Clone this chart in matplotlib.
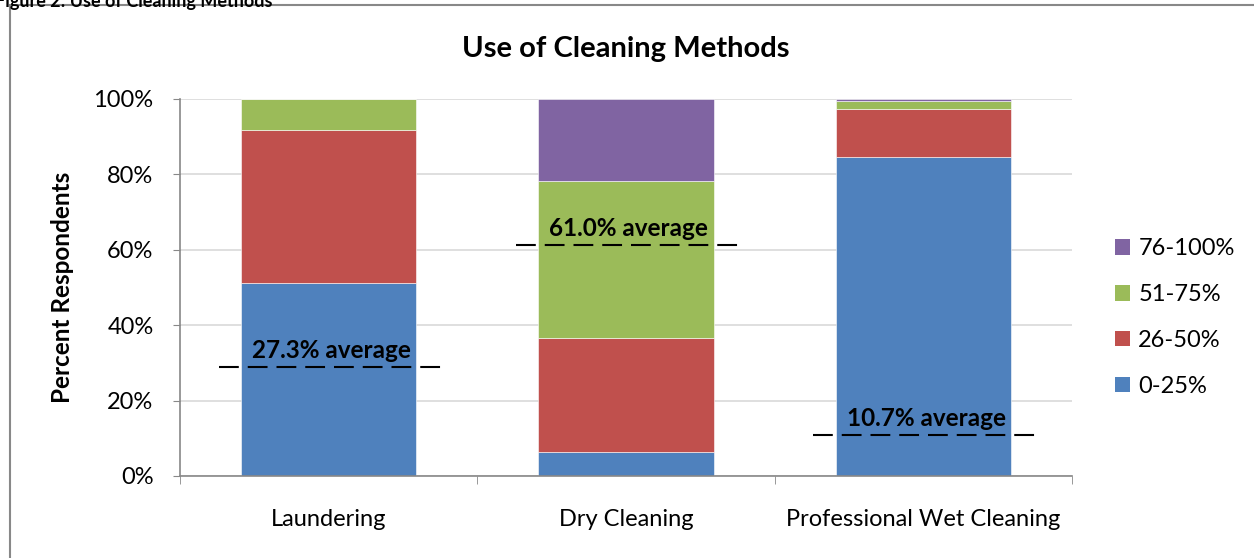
import matplotlib.pyplot as plt
from matplotlib.patches import Patch

plt.rcParams['font.family'] = ['Lato', 'DejaVu Sans']

# data
categories = ["Laundering", "Dry Cleaning", "Professional Wet Cleaning"]
ranges = ["0-25%", "26-50%", "51-75%", "76-100%"]
colors = ["#4F81BD", "#C0504D", "#9BBB59", "#8064A2"]
seg_0_25 = [51.2, 6.3, 84.5]
seg_26_50 = [40.6, 30.4, 12.8]
seg_51_75 = [8.2, 41.4, 2.0]
seg_76_100 = [0.0, 21.9, 0.7]
avg_labels = ["27.3% average", "61.0% average", "10.7% average"]
avg_line = [28.8, 61.2, 10.8]

fig = plt.figure(figsize=(12.54, 5.58), dpi=100)
ax = fig.add_axes([0.1435, 0.147, 0.7113, 0.676])

# outer frame of the chart (runs off the right/bottom)
fig.patches.append(plt.Rectangle((10 / 1254, -0.1), 1.2, 1 - 5 / 558 + 0.1,
                                 transform=fig.transFigure, fill=False,
                                 edgecolor="#888888", lw=1.5))
# caption, cut off at the top like in the source document
fig.text(-0.004, 0.997, "Figure 2: Use of Cleaning Methods", fontsize=13,
         fontweight="bold", va="center", ha="left")

x = range(len(categories))
bottom = [0, 0, 0]
for vals, c in zip([seg_0_25, seg_26_50, seg_51_75, seg_76_100], colors):
    ax.bar(x, vals, width=0.59, bottom=bottom, color=c, edgecolor="white",
           linewidth=0.4, zorder=2)
    bottom = [b + v for b, v in zip(bottom, vals)]

for i, (lab, y) in enumerate(zip(avg_labels, avg_line)):
    ax.plot([i - 0.37, i + 0.39], [y, y], color="black", lw=1.5,
            dashes=(9.5, 4.3), zorder=3)
    ax.text(i + 0.01, y + 1.4, lab, ha="center", va="bottom", fontsize=17.5,
            fontweight="bold", zorder=4)

ax.set_xlim(-0.5, 2.5)
ax.set_ylim(0, 100)
ax.set_yticks([0, 20, 40, 60, 80, 100])
ax.set_yticklabels([f"{v}%" for v in range(0, 101, 20)], fontsize=17)
ax.set_xticks(list(x))
ax.set_xticklabels(categories, fontsize=17)
ax.set_xticks([-0.5, 0.5, 1.5, 2.5], minor=True)
ax.tick_params(axis="x", which="major", length=0, pad=24)
ax.tick_params(axis="x", which="minor", length=6, color="#888888")
ax.tick_params(axis="y", length=5, color="#888888", pad=14)
ax.grid(axis="y", color="#D9D9D9", lw=1.2, zorder=0)
ax.set_axisbelow(True)
for s in ["top", "right"]:
    ax.spines[s].set_visible(False)
for s in ["left", "bottom"]:
    ax.spines[s].set_color("#888888")
    ax.spines[s].set_linewidth(1.2)

ax.set_ylabel("Percent Respondents", fontsize=17.5, fontweight="bold", labelpad=14)
ax.set_title("Use of Cleaning Methods", fontsize=21, fontweight="bold", pad=30)

handles = [Patch(facecolor=c, label=r) for c, r in zip(colors, ranges)][::-1]
fig.legend(handles=handles, loc="center left", bbox_to_anchor=(0.872, 0.431),
           frameon=False, fontsize=17, handlelength=0.65, handleheight=0.65,
           labelspacing=1.05, handletextpad=0.35)

fig.savefig("out.png", dpi=100)
